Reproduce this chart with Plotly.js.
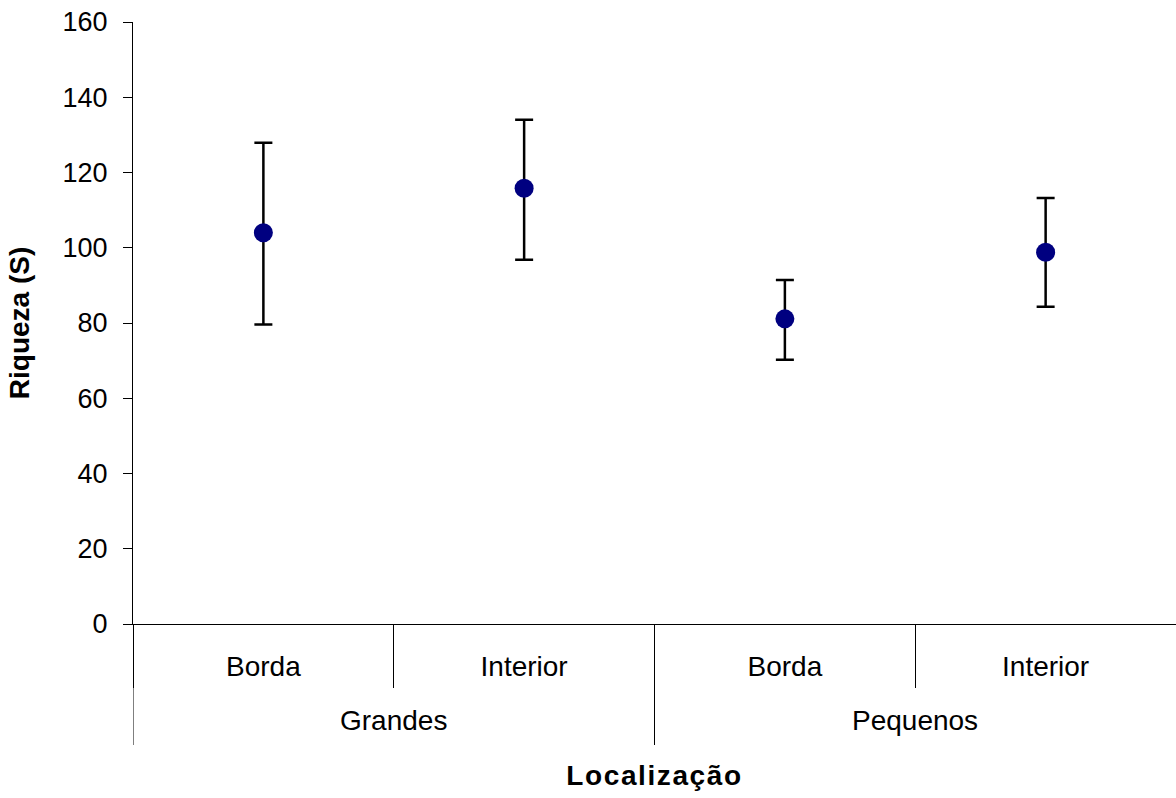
<!DOCTYPE html>
<html>
<head>
<meta charset="utf-8">
<script src="https://cdn.plot.ly/plotly-3.0.1.min.js"></script>
<style>html,body{margin:0;padding:0;background:#fff;}#chart{width:1176px;height:798px;}
.xtitle{letter-spacing:1.6px;}</style>
</head>
<body>
<div id="chart"></div>
<script>
const groups = ["Grandes", "Grandes", "Pequenos", "Pequenos"];
const locations = ["Borda", "Interior", "Borda", "Interior"];
const riqueza = [104.0, 115.8, 81.1, 98.8];
const errPlus = [23.9, 18.2, 10.3, 14.4];
const errMinus = [24.4, 19.0, 10.9, 14.5];

const xIdx = locations.map((_, i) => i);

// group spans derived from the categories
const groupNames = [...new Set(groups)];
const groupStart = groupNames.map(g => groups.indexOf(g));
const groupEnd = groupNames.map(g => groups.lastIndexOf(g));

const FONT = "Liberation Sans, Arial, sans-serif";

const trace = {
  type: "scatter",
  mode: "markers",
  x: xIdx,
  y: riqueza,
  marker: { color: "#000080", size: 19 },
  error_y: {
    type: "data", symmetric: false,
    array: errPlus, arrayminus: errMinus,
    color: "#000000", thickness: 2.5, width: 9
  },
  hoverinfo: "y"
};

const annotations = groupNames.map((g, k) => ({
  x: (groupStart[k] + groupEnd[k]) / 2, xref: "x",
  y: 0, yref: "paper", yanchor: "middle", yshift: -96,
  text: g, showarrow: false, font: { family: FONT, size: 28, color: "#000" }
}));

const shapes = groupStart.map(s => ({
  type: "line", xref: "x", yref: "paper",
  x0: s - 0.5, x1: s - 0.5, y0: 0, y1: -121 / 602,
  line: { color: "#000", width: 1 }
}));

const layout = {
  width: 1176, height: 798,
  margin: { l: 133, r: 0, t: 22, b: 174 },
  paper_bgcolor: "#fff", plot_bgcolor: "#fff",
  showlegend: false,
  font: { family: FONT, size: 27, color: "#000" },
  xaxis: {
    range: [-0.5, locations.length - 0.5],
    tickvals: xIdx, ticktext: locations,
    showline: true, linecolor: "#000", linewidth: 1,
    showgrid: false, zeroline: false,
    ticks: "", ticklabelstandoff: 17,
    minor: { ticks: "outside", tick0: -0.5, dtick: 1, ticklen: 63, tickcolor: "#000", tickwidth: 1, showgrid: false },
    tickfont: { size: 28 },
    title: { text: "<b>Localização</b>", font: { size: 28 }, standoff: 84 }
  },
  yaxis: {
    range: [0, 160], dtick: 20,
    showline: true, linecolor: "#000", linewidth: 1,
    showgrid: false, zeroline: false,
    ticks: "outside", ticklen: 9, tickcolor: "#000",
    ticklabelstandoff: 10,
    tickfont: { size: 27 },
    title: { text: "<b>Riqueza (S)</b>", font: { size: 28 }, standoff: 24 }
  },
  annotations: annotations,
  shapes: shapes
};

Plotly.newPlot("chart", [trace], layout, { displayModeBar: false, staticPlot: true });
</script>
</body>
</html>
